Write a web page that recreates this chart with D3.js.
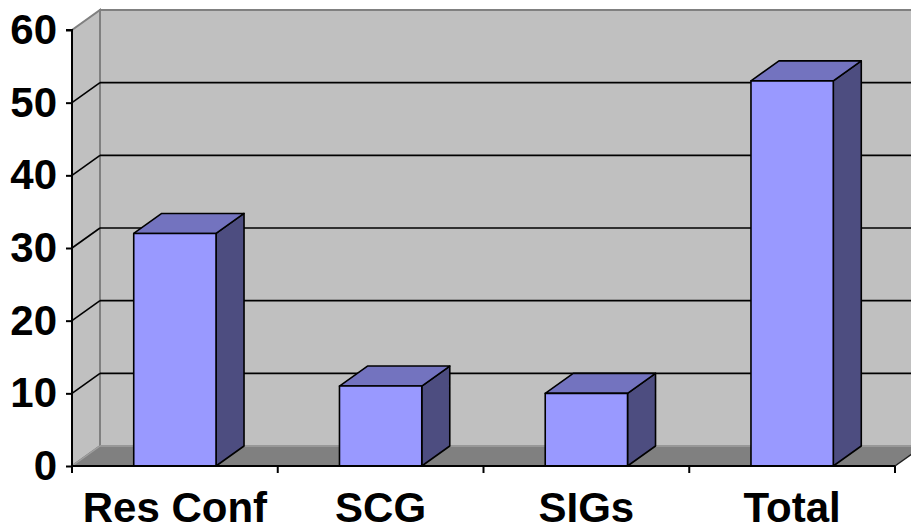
<!DOCTYPE html>
<html>
<head>
<meta charset="utf-8">
<script src="https://cdn.jsdelivr.net/npm/d3@7"></script>
<style>
  html, body { margin: 0; padding: 0; background: #ffffff; }
  svg { display: block; }
  text { font-family: "Liberation Sans", Arial, sans-serif; font-weight: bold; fill: #000; }
</style>
</head>
<body>
<svg id="chart" width="911" height="531"></svg>
<script>
// Categories and values
const categories = ["Res Conf", "SCG", "SIGs", "Total"];
const values = [32, 11, 10, 53];
const yTicks = [0, 10, 20, 30, 40, 50, 60];

const W = 911, H = 531;
const plot = { left: 72, right: 895, top: 30, bottom: 466 };
const depth = { dx: 28, dy: -20 };

const svg = d3.select("#chart");

const x = d3.scaleBand()
  .domain(categories)
  .range([plot.left, plot.right])
  .paddingInner(0.6)
  .paddingOuter(0.3);

const y = d3.scaleLinear().domain([0, 60]).range([plot.bottom, plot.top]);

const wallFill = "#c0c0c0", wallEdge = "#808080", floorFill = "#808080";

// Back wall
svg.append("rect")
  .attr("x", plot.left + depth.dx)
  .attr("y", y(60) + depth.dy)
  .attr("width", plot.right - plot.left + 40)
  .attr("height", y(0) - y(60))
  .attr("fill", wallFill)
  .attr("stroke", wallEdge)
  .attr("stroke-width", 2);

// Left side wall
const leftWall = [
  [plot.left, y(0)], [plot.left, y(60)],
  [plot.left + depth.dx, y(60) + depth.dy], [plot.left + depth.dx, y(0) + depth.dy]
];
svg.append("polygon")
  .attr("points", leftWall.map(p => p.join(",")).join(" "))
  .attr("fill", wallFill)
  .attr("stroke", wallEdge)
  .attr("stroke-width", 2);

// Floor
const floor = [
  [plot.left, y(0)], [plot.right, y(0)],
  [plot.right + depth.dx, y(0) + depth.dy], [plot.left + depth.dx, y(0) + depth.dy]
];
svg.append("polygon")
  .attr("points", floor.map(p => p.join(",")).join(" "))
  .attr("fill", floorFill);
svg.append("line")
  .attr("x1", plot.left + depth.dx).attr("y1", y(0) + depth.dy)
  .attr("x2", W + 20).attr("y2", y(0) + depth.dy)
  .attr("stroke", "#a0a0a0").attr("stroke-width", 1.5);
svg.append("line")
  .attr("x1", plot.left).attr("y1", y(0))
  .attr("x2", plot.left + depth.dx).attr("y2", y(0) + depth.dy)
  .attr("stroke", "#a0a0a0").attr("stroke-width", 1.5);
svg.append("line")
  .attr("x1", plot.right).attr("y1", y(0))
  .attr("x2", plot.right + depth.dx).attr("y2", y(0) + depth.dy)
  .attr("stroke", "#202020").attr("stroke-width", 1.5);

// Gridlines: back wall and left wall diagonals
const gridVals = yTicks.filter(v => v > 0 && v < 60);
const grid = svg.append("g").attr("stroke", "#000").attr("stroke-width", 1.6);
grid.selectAll("line.back").data(gridVals).join("line")
  .attr("class", "back")
  .attr("x1", plot.left + depth.dx).attr("x2", W + 20)
  .attr("y1", d => y(d) + depth.dy).attr("y2", d => y(d) + depth.dy);
grid.selectAll("line.side").data(gridVals).join("line")
  .attr("class", "side")
  .attr("x1", plot.left).attr("y1", d => y(d))
  .attr("x2", plot.left + depth.dx).attr("y2", d => y(d) + depth.dy);

// Bars (front, top, side faces)
const bars = svg.append("g").attr("stroke", "#000").attr("stroke-width", 1.6).attr("stroke-linejoin", "round");
categories.forEach((c, i) => {
  const x0 = x(c), x1 = x(c) + x.bandwidth();
  const yt = y(values[i]), yb = y(0);
  const g = bars.append("g");
  g.append("polygon")
    .attr("points", [[x1, yt], [x1 + depth.dx, yt + depth.dy], [x1 + depth.dx, yb + depth.dy], [x1, yb]].map(p => p.join(",")).join(" "))
    .attr("fill", "#4d4d80");
  g.append("polygon")
    .attr("points", [[x0, yt], [x0 + depth.dx, yt + depth.dy], [x1 + depth.dx, yt + depth.dy], [x1, yt]].map(p => p.join(",")).join(" "))
    .attr("fill", "#7373bf");
  g.append("rect")
    .attr("x", x0).attr("y", yt)
    .attr("width", x1 - x0).attr("height", yb - yt)
    .attr("fill", "#9999ff");
});

// Y axis
const yAxis = d3.axisLeft(y).tickValues(yTicks).tickSize(6).tickPadding(9).tickFormat(d3.format("d"));
const gy = svg.append("g").attr("transform", `translate(${plot.left},0)`).call(yAxis);
gy.select(".domain").attr("stroke", "#000").attr("stroke-width", 2).attr("d", `M-6,${y(60)}H0V${y(0)}`);
gy.selectAll(".tick line").attr("stroke", "#000").attr("stroke-width", 2);
gy.selectAll(".tick text")
  .style("font-family", "'Liberation Sans', Arial, sans-serif")
  .style("font-weight", "bold")
  .style("font-size", "42px")
  .attr("fill", "#000");

// X axis
const edges = d3.range(categories.length + 1).map(i => plot.left + i * x.step());
const gx = svg.append("g");
gx.append("line")
  .attr("x1", plot.left).attr("x2", plot.right)
  .attr("y1", y(0)).attr("y2", y(0))
  .attr("stroke", "#000").attr("stroke-width", 2);
gx.selectAll("line.tick").data(edges).join("line")
  .attr("class", "tick")
  .attr("x1", d => d).attr("x2", d => d)
  .attr("y1", y(0)).attr("y2", y(0) + 7)
  .attr("stroke", "#000").attr("stroke-width", 2);
gx.selectAll("text").data(categories).join("text")
  .attr("x", d => x(d) + x.bandwidth() / 2)
  .attr("y", 522)
  .attr("text-anchor", "middle")
  .style("font-size", "42px")
  .text(d => d);
</script>
</body>
</html>
